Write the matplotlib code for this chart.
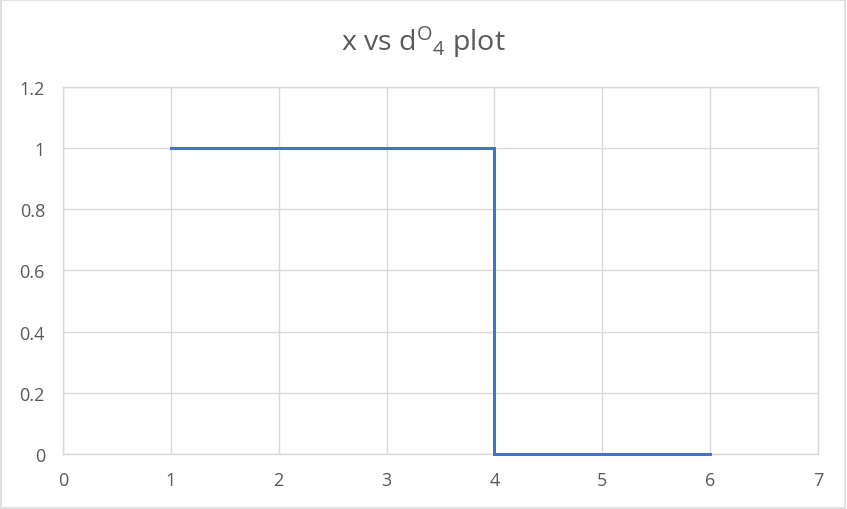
import matplotlib.pyplot as plt
from matplotlib.patches import Rectangle

plt.rcParams['font.family'] = ['Open Sans', 'DejaVu Sans']
plt.rcParams['mathtext.default'] = 'regular'

# step data
x_vals = [1, 4, 4, 6]
y_vals = [1, 1, 0, 0]

x_ticks = [0, 1, 2, 3, 4, 5, 6, 7]
y_ticks = [0, 0.2, 0.4, 0.6, 0.8, 1, 1.2]
y_labels = ['0', '0.2', '0.4', '0.6', '0.8', '1', '1.2']

grid_col = '#D9D9D9'
text_col = '#595959'

fig = plt.figure(figsize=(8.47, 5.10), dpi=100)
ax = fig.add_axes([0.0744, 0.1078, 0.8913, 0.7197])

ax.plot(x_vals, y_vals, color='#4472C4', linewidth=2.2, solid_joinstyle='miter',
        zorder=3, clip_on=False)

ax.set_xlim(0, 7)
ax.set_ylim(0, 1.2)
ax.set_xticks(x_ticks)
ax.set_yticks(y_ticks)
ax.set_yticklabels(y_labels)
ax.tick_params(length=0, labelsize=13, labelcolor=text_col)
ax.tick_params(axis='x', pad=12)
ax.tick_params(axis='y', pad=13)
ax.grid(True, color=grid_col, linewidth=1)
ax.set_axisbelow(True)
for s in ax.spines.values():
    s.set_color(grid_col)
    s.set_linewidth(1)

fig.text(0.5, 0.918, 'x vs d$^{O}$$_{4}$ plot', ha='center', va='center',
         fontsize=20.5, color=text_col)

# light border around the chart area
fig.patches.append(Rectangle((0.001, 0.002), 0.997, 0.996, transform=fig.transFigure,
                             fill=False, edgecolor=grid_col, linewidth=1.2))

fig.savefig('out.png', dpi=100)
